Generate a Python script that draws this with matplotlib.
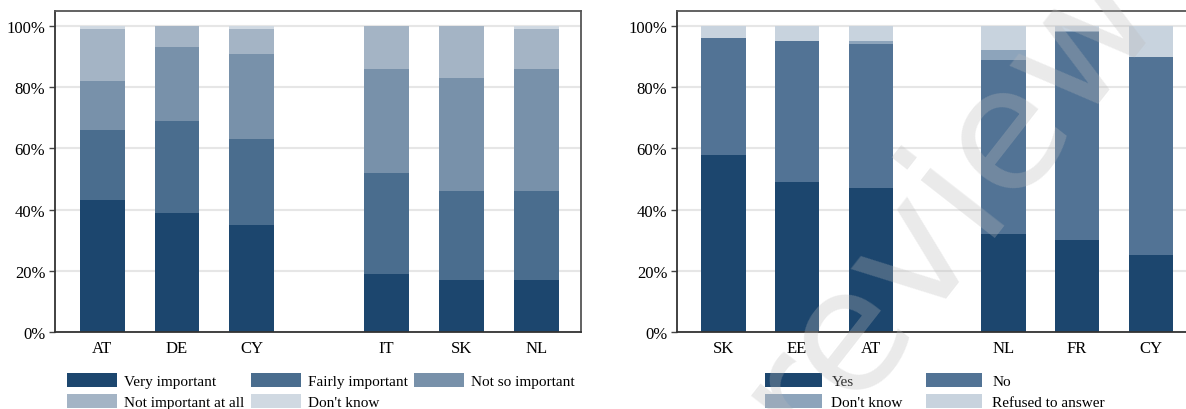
import matplotlib
matplotlib.use("Agg")
import matplotlib.pyplot as plt
import numpy as np

plt.rcParams['font.family'] = ['Liberation Serif', 'DejaVu Serif']

# left panel: importance
left_countries = ["AT", "DE", "CY", "IT", "SK", "NL"]
left_labels = ["Very important", "Fairly important", "Not so important",
               "Not important at all", "Don't know"]
very_important = [43, 39, 35, 19, 17, 17]
fairly_important = [23, 30, 28, 33, 29, 29]
not_so_important = [16, 24, 28, 34, 37, 40]
not_important_at_all = [17, 7, 8, 14, 17, 13]
dont_know_left = [1, 0, 1, 0, 0, 1]
left_colors = ["#1c466e", "#4a6d8e", "#7891aa", "#a4b4c5", "#d0d9e2"]

# right panel: yes / no
right_countries = ["SK", "EE", "AT", "NL", "FR", "CY"]
right_labels = ["Yes", "No", "Don't know", "Refused to answer"]
yes = [58, 49, 47, 32, 30, 25]
no = [38, 46, 47, 57, 68, 65]
dont_know_right = [0, 0, 1, 3, 0.5, 0]
refused = [4, 5, 5, 8, 1.5, 10]
right_colors = ["#1c466e", "#527395", "#8da4bb", "#c8d3de"]

W, H = 1186, 410
fig = plt.figure(figsize=(W / 100, H / 100), dpi=100)


def px_axes(x0, y0, x1, y1):
    return fig.add_axes([x0 / W, 1 - y1 / H, (x1 - x0) / W, (y1 - y0) / H])


def stacked(ax, countries, series, colors, labels):
    pos = np.arange(len(countries)) + 0.8 * (np.arange(len(countries)) >= 3)
    bottom = np.zeros(len(countries))
    handles = []
    for vals, c, lab in zip(series, colors, labels):
        h = ax.bar(pos, vals, width=0.6, bottom=bottom, color=c, label=lab,
                   zorder=2, linewidth=0)
        bottom += np.array(vals, dtype=float)
        handles.append(h)
    ax.set_xticks(pos)
    ax.set_xticklabels(countries, fontsize=12)
    ax.tick_params(axis='x', length=0, pad=6)
    ax.set_yticks(np.arange(0, 101, 20))
    ax.set_yticklabels([f"{v}%" for v in range(0, 101, 20)], fontsize=12)
    ax.tick_params(axis='y', length=4, width=1, color='#444444', pad=3)
    ax.set_ylim(0, 104.9)
    ax.set_xlim(-0.63, 6.4)
    ax.yaxis.grid(True, color='#e6e6e6', linewidth=1.5, zorder=0)
    ax.set_axisbelow(True)
    for s in ax.spines.values():
        s.set_color('#555555')
        s.set_linewidth(1.3)
    ax.spines['left'].set_color('#333333')
    ax.spines['bottom'].set_color('#333333')
    return handles


ax1 = px_axes(55, 12, 581, 333)
h1 = stacked(ax1, left_countries,
             [very_important, fairly_important, not_so_important,
              not_important_at_all, dont_know_left],
             left_colors, left_labels)

ax2 = px_axes(677, 12, 1195, 333)
h2 = stacked(ax2, right_countries, [yes, no, dont_know_right, refused],
             right_colors, right_labels)

# legends fill column-wise, so reorder to read row by row
order1 = [0, 3, 1, 4, 2]
fig.legend(handles=[h1[i] for i in order1],
           labels=[left_labels[i] for i in order1], loc='upper left',
           bbox_to_anchor=(67 / W, 1 - 374 / H), ncol=3, frameon=False,
           fontsize=11, handlelength=3.3, handleheight=1.05,
           handletextpad=0.45, columnspacing=0.4, labelspacing=0.35,
           borderpad=0, borderaxespad=0)
order2 = [0, 2, 1, 3]
fig.legend(handles=[h2[i] for i in order2],
           labels=[right_labels[i] for i in order2], loc='upper left',
           bbox_to_anchor=(765 / W, 1 - 374 / H), ncol=2, frameon=False,
           fontsize=11, handlelength=3.7, handleheight=1.05,
           handletextpad=0.65, columnspacing=1.5, labelspacing=0.35,
           borderpad=0, borderaxespad=0)

# watermark
fig.text(948 / W, 1 - 200 / H, "review", fontsize=124, family='DejaVu Sans',
         color='#bbbbbb', alpha=0.3, rotation=52, ha='center', va='center',
         zorder=10)

fig.savefig("out.png", dpi=100)
